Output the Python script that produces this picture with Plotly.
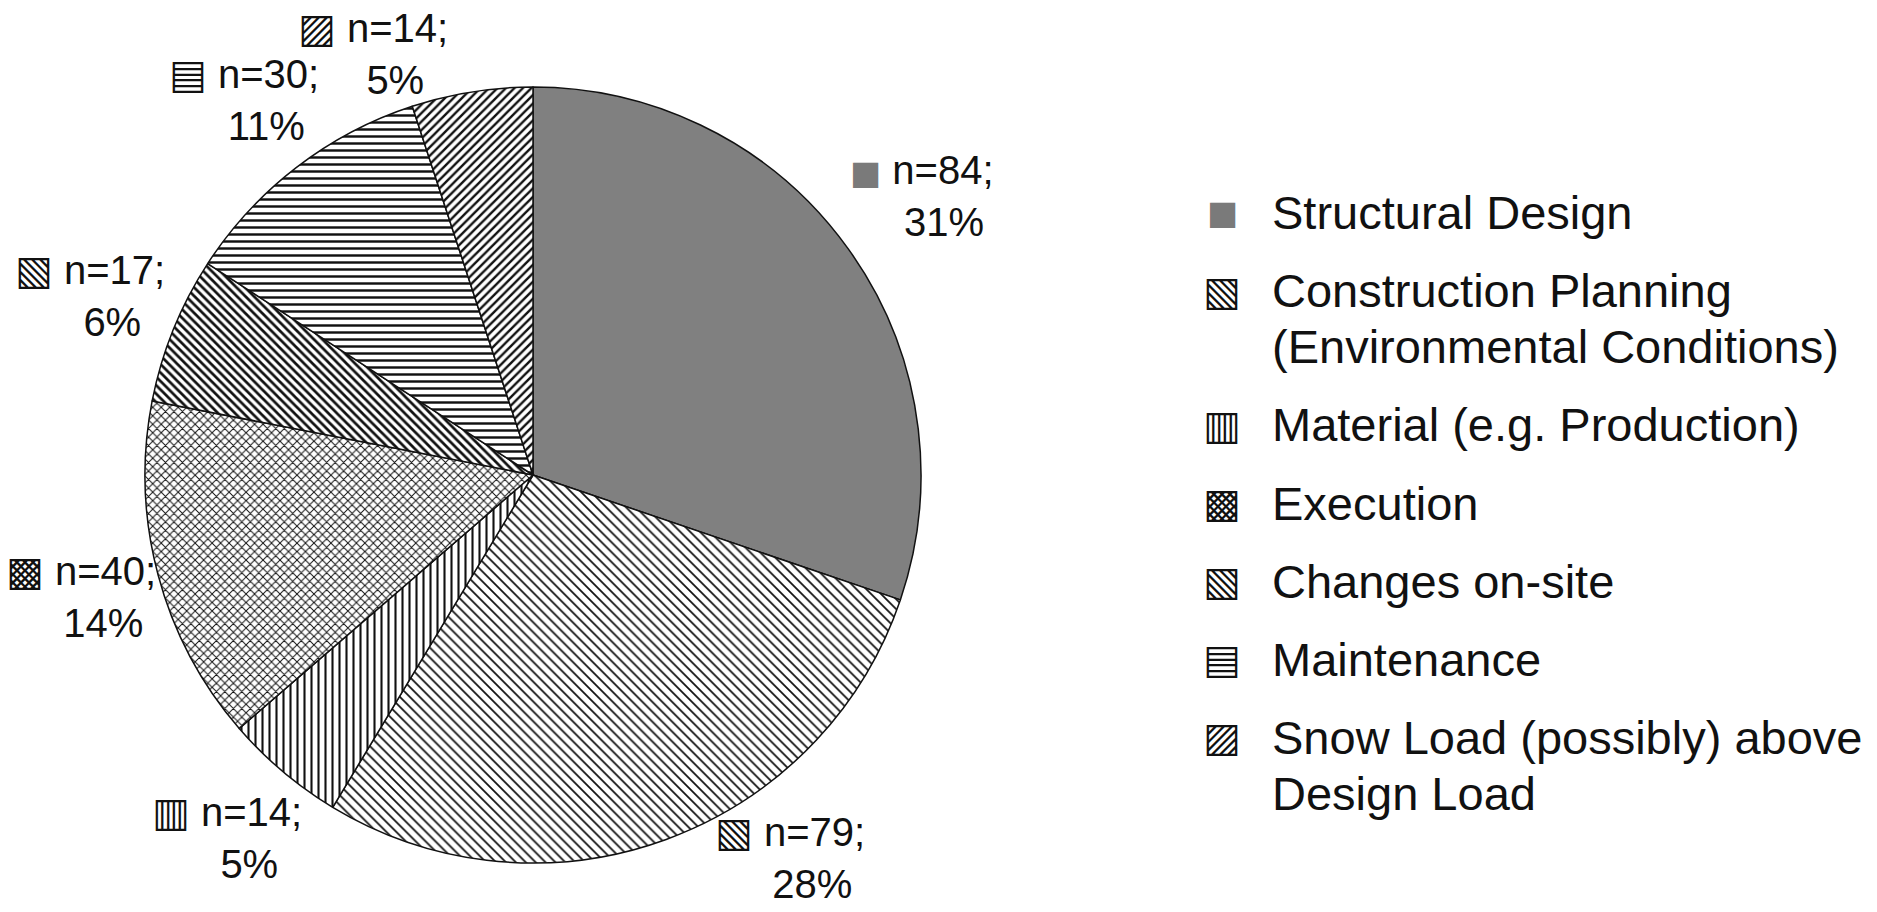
import math
import plotly.graph_objects as go

# ---------------- data ----------------
categories = [
    "Structural Design",
    "Construction Planning<br>(Environmental Conditions)",
    "Material (e.g. Production)",
    "Execution",
    "Changes on-site",
    "Maintenance",
    "Snow Load (possibly) above<br>Design Load",
]
counts = [84, 79, 14, 40, 17, 30, 14]
pct_labels = ["31%", "28%", "5%", "14%", "6%", "11%", "5%"]
icons = ["<span style='font-family:DejaVu Sans;font-size:33px;color:#7a7a7a'>■</span>",
         "▧", "▥", "▩", "▧", "▤", "▨"]

# ---------------- style ----------------
patterns = ["", "\\", "|", "x", "\\", "-", "/"]
pattern_sizes = [8, 7, 7, 6, 6, 7, 6]
pattern_solidity = [0.3, 0.25, 0.3, 0.3, 0.45, 0.35, 0.4]
bg_colors = ["#808080", "white", "white", "white", "white", "white", "white"]

W, H = 1877, 912
CX, CY, R = 533, 475, 388          # pie centre / radius in pixels
FONT = "Liberation Sans, Arial, DejaVu Sans"
TXT = "#111111"

fig = go.Figure(
    go.Pie(
        labels=[c.replace("<br>", " ") for c in categories],
        values=counts,
        textinfo="none",
        sort=False,
        direction="clockwise",
        rotation=0,
        showlegend=False,
        marker=dict(
            colors=bg_colors,
            line=dict(color=TXT, width=1.5),
            pattern=dict(
                shape=patterns,
                size=pattern_sizes,
                solidity=pattern_solidity,
                fgcolor=TXT,
                fillmode="replace",
            ),
        ),
        domain=dict(x=[(CX - R) / W, (CX + R) / W], y=[1 - (CY + R) / H, 1 - (CY - R) / H]),
        hoverinfo="label+value",
    )
)

annotations = []

# ---------------- slice labels (positions derived from the data) ----------------
total = sum(counts)
half_w, half_h, gap, edge = 69, 42, 10, 12
cum = 0
for n, pct, ic in zip(counts, pct_labels, icons):
    mid = (cum + n / 2) / total * 2 * math.pi
    cum += n
    s, c = math.sin(mid), math.cos(mid)
    d = R + abs(s) * half_w + abs(c) * half_h + gap
    x, y = CX + d * s, CY - d * c
    if y - half_h < edge:                      # keep inside top edge
        c2 = (CY - (half_h + edge)) / d
        s2 = math.copysign(math.sqrt(max(0, 1 - c2 * c2)), s)
        x, y = CX + d * s2, CY - d * c2
    elif y + half_h > H - edge:                # keep inside bottom edge
        c2 = -(H - edge - half_h - CY) / d
        s2 = math.copysign(math.sqrt(max(0, 1 - c2 * c2)), s)
        x, y = CX + d * s2, CY - d * c2
    x = min(max(x, edge + half_w), W - edge - half_w)   # keep inside side edges
    annotations.append(dict(
        x=x / W, y=1 - y / H, xref="paper", yref="paper",
        xanchor="center", yanchor="middle", showarrow=False, align="center",
        text=f"{ic} n={n};<br>&nbsp;&nbsp;&nbsp;&nbsp;{pct}",
        font=dict(family=FONT, size=40, color=TXT),
    ))

# ---------------- legend (built as text) ----------------
LEG_ICON_X, LEG_TEXT_X = 1222, 1270
LEG_Y0, LINE_STEP, ENTRY_STEP = 213, 56, 78
y = LEG_Y0
for cat, ic in zip(categories, icons):
    lines = cat.split("<br>")
    annotations.append(dict(
        x=LEG_ICON_X / W, y=1 - y / H, xref="paper", yref="paper",
        xanchor="center", yanchor="middle", showarrow=False,
        text=ic, font=dict(family=FONT, size=40, color=TXT),
    ))
    for i, ln in enumerate(lines):
        annotations.append(dict(
            x=LEG_TEXT_X / W, y=1 - (y + i * LINE_STEP) / H, xref="paper", yref="paper",
            xanchor="left", yanchor="middle", showarrow=False,
            text=ln, font=dict(family=FONT, size=47, color=TXT),
        ))
    y += (len(lines) - 1) * LINE_STEP + ENTRY_STEP

fig.update_layout(
    width=W,
    height=H,
    margin=dict(l=0, r=0, t=0, b=0),
    paper_bgcolor="white",
    plot_bgcolor="white",
    showlegend=False,
    annotations=annotations,
)

fig.write_html("out.html")
